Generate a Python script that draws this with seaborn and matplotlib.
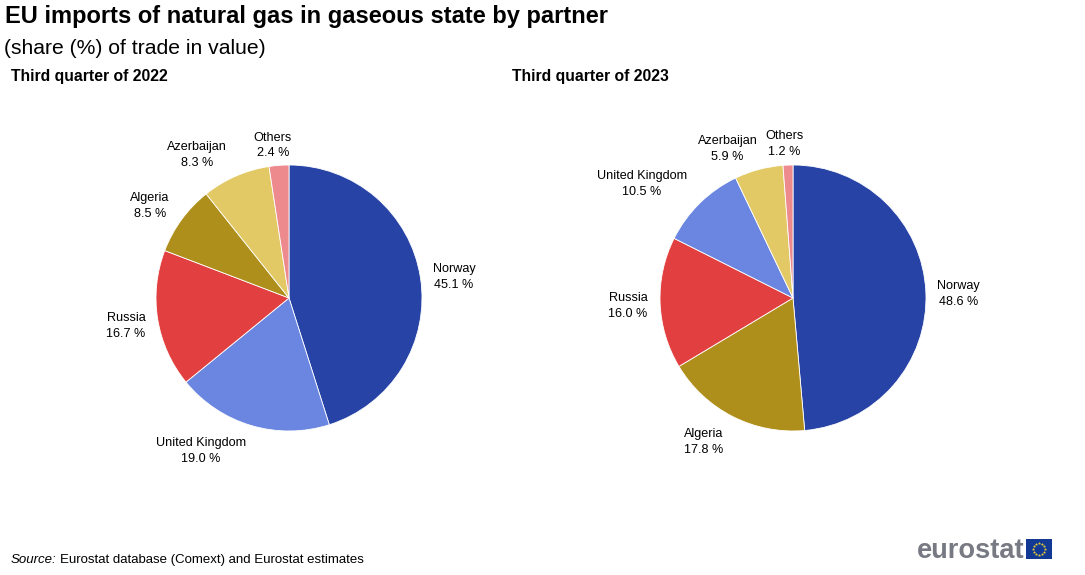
import matplotlib
matplotlib.use('Agg')
import matplotlib.pyplot as plt
import numpy as np
import seaborn as sns

# data
partners_2022 = ['Norway', 'United Kingdom', 'Russia', 'Algeria', 'Azerbaijan', 'Others']
shares_2022 = [45.1, 19.0, 16.7, 8.5, 8.3, 2.4]
partners_2023 = ['Norway', 'Algeria', 'Russia', 'United Kingdom', 'Azerbaijan', 'Others']
shares_2023 = [48.6, 17.8, 16.0, 10.5, 5.9, 1.2]

# label centres in pixels
label_pos_2022 = [(454, 277), (201, 451), (126, 326), (150, 206), (197, 155), (273, 145.5)]
label_pos_2023 = [(958.5, 294), (704, 442), (628, 306), (642, 184), (727.5, 149), (784, 144)]

colors = {
    'Norway': '#2643A5',
    'United Kingdom': '#6A86E0',
    'Russia': '#E24040',
    'Algeria': '#AF8F1C',
    'Azerbaijan': '#E2C965',
    'Others': '#EC8A8E',
}

W, H = 1085, 575

sns.set_theme(style='white')
plt.rcParams['font.family'] = ['Liberation Sans', 'DejaVu Sans']

fig = plt.figure(figsize=(W / 100, H / 100), dpi=100, facecolor='white')


def px_text(x, y, s, **kw):
    # y measured from the top of the image
    return fig.text(x / W, 1 - y / H, s, color=kw.pop('color', 'black'), **kw)


def draw_pie(partners, shares, cx, cy, r, label_pos):
    ax = fig.add_axes([(cx - r) / W, 1 - (cy + r) / H, 2 * r / W, 2 * r / H])
    ax.pie(shares, colors=[colors[p] for p in partners], startangle=90, counterclock=False,
           radius=1, wedgeprops={'edgecolor': 'white', 'linewidth': 0.6})
    ax.set_xlim(-1, 1)
    ax.set_ylim(-1, 1)
    for p, s, (x, y) in zip(partners, shares, label_pos):
        px_text(x, y, f'{p}\n{s:.1f} %', fontsize=9.1, ha='center', va='center', linespacing=1.38)


draw_pie(partners_2022, shares_2022, 289, 298, 133, label_pos_2022)
draw_pie(partners_2023, shares_2023, 793, 298, 133, label_pos_2023)

# titles
px_text(5, 17, 'EU imports of natural gas in gaseous state by partner', fontsize=17, fontweight='bold', va='center')
px_text(4, 48, '(share (%) of trade in value)', fontsize=15.2, va='center')
px_text(11, 76.5, 'Third quarter of 2022', fontsize=11.3, fontweight='bold', va='center')
px_text(512, 76.5, 'Third quarter of 2023', fontsize=11.3, fontweight='bold', va='center')

# source
px_text(11, 560, 'Source:', fontsize=9.56, fontstyle='italic', va='center')
px_text(60, 560, 'Eurostat database (Comext) and Eurostat estimates', fontsize=9.56, va='center')

# logo
px_text(917, 551, 'eurostat', fontsize=19.6, fontweight='bold', color='#777A82', va='center')
flag = fig.add_axes([1026 / W, 1 - 559 / H, 26 / W, 20 / H])
flag.set_facecolor('#123A94')
flag.set_xticks([])
flag.set_yticks([])
for sp in flag.spines.values():
    sp.set_visible(False)
star_angles = np.deg2rad(np.arange(0, 360, 30))
flag.scatter(np.cos(star_angles) * 0.62, np.sin(star_angles) * 0.62, s=3, color='#F0D030', marker='*', linewidths=0.2)
flag.set_xlim(-1.3, 1.3)
flag.set_ylim(-1, 1)

fig.savefig('out.png', dpi=100, facecolor='white')
